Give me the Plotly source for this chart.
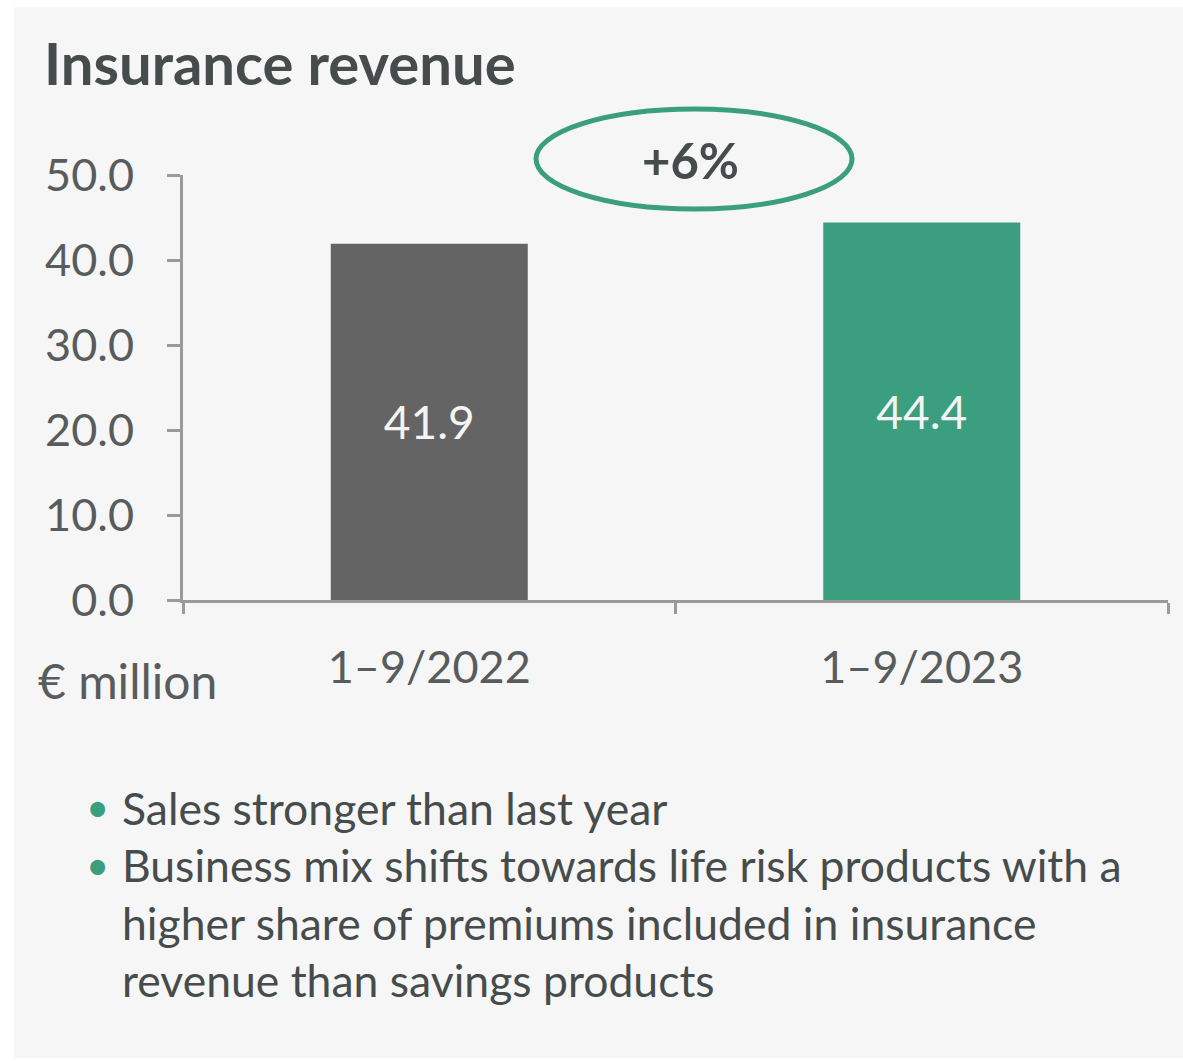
import plotly.graph_objects as go

# Data
periods = ["1–9/2022", "1–9/2023"]
revenue = [41.9, 44.4]
bar_colors = ["#646464", "#3b9e7f"]
y_ticks = [0, 10, 20, 30, 40, 50]
bullets = [
    ["Sales stronger than last year"],
    ["Business mix shifts towards life risk products with a",
     "higher share of premiums included in insurance",
     "revenue than savings products"],
]

W, H = 1183, 1061
GREEN = "#3b9e7f"
DARK = "#464c4c"
AXIS_TXT = "#585c5c"
FONT = "Lato"


def px_x(x):
    return x / W


def px_y(y):
    return 1 - y / H


growth = round((revenue[1] / revenue[0] - 1) * 100)

fig = go.Figure()
fig.add_trace(go.Bar(
    x=periods,
    y=revenue,
    width=0.4,
    marker=dict(color=bar_colors, line=dict(width=0)),
    text=[f"{v:.1f}" for v in revenue],
    textposition="inside",
    insidetextanchor="middle",
    textfont=dict(family=FONT, size=46, color="#f4f4f4"),
    hoverinfo="skip",
))

fig.update_layout(
    width=W, height=H,
    margin=dict(l=0, r=0, t=0, b=0),
    paper_bgcolor="white",
    plot_bgcolor="rgba(0,0,0,0)",
    showlegend=False,
    font=dict(family=FONT, color=DARK),
    xaxis=dict(
        domain=[px_x(183), px_x(1168)],
        type="category",
        range=[-0.5, 1.5],
        tickson="boundaries",
        ticks="outside", ticklen=11, tickwidth=3, tickcolor="#9a9a9a",
        showline=True, linecolor="#9a9a9a", linewidth=3,
        showgrid=False, zeroline=False,
        tickfont=dict(family=FONT, size=45, color=AXIS_TXT),
        ticklabelstandoff=26,
        automargin=False,
    ),
    yaxis=dict(
        domain=[px_y(600), px_y(175)],
        range=[0, 50],
        tickvals=y_ticks,
        tickformat=".1f",
        ticks="outside", ticklen=13, tickwidth=3, tickcolor="#9a9a9a",
        showline=True, linecolor="#9a9a9a", linewidth=3,
        showgrid=False, zeroline=False,
        tickfont=dict(family=FONT, size=45, color=AXIS_TXT),
        ticklabelstandoff=24,
        automargin=False,
    ),
)

# light panel behind everything
fig.add_shape(type="rect", xref="paper", yref="paper",
              x0=px_x(14), x1=1, y0=px_y(1058), y1=px_y(7),
              fillcolor="#f6f6f6", line=dict(width=0), layer="below")

# growth ellipse
fig.add_shape(type="circle", xref="paper", yref="paper",
              x0=px_x(536), x1=px_x(852), y0=px_y(209), y1=px_y(109),
              line=dict(color=GREEN, width=5))

annotations = [
    dict(text="<b>Insurance revenue</b>", x=px_x(42), y=px_y(63),
         xanchor="left", yanchor="middle", font=dict(size=58, color=DARK)),
    dict(text=f"<b>+{growth}%</b>", x=px_x(690), y=px_y(160),
         xanchor="center", yanchor="middle", font=dict(size=49, color=DARK)),
    dict(text="€ million", x=px_x(36), y=px_y(680),
         xanchor="left", yanchor="middle", font=dict(size=48, color=AXIS_TXT)),
]

line_y = 807
for group in bullets:
    annotations.append(dict(text="•", x=px_x(84), y=px_y(line_y),
                            xanchor="left", yanchor="middle",
                            font=dict(size=40, color=GREEN)))
    for line in group:
        annotations.append(dict(text=line, x=px_x(120), y=px_y(line_y),
                                xanchor="left", yanchor="middle",
                                font=dict(size=44.5, color=DARK)))
        line_y += 57.5

for a in annotations:
    a.update(xref="paper", yref="paper", showarrow=False)
fig.update_layout(annotations=annotations)

fig.write_html("out.html")
